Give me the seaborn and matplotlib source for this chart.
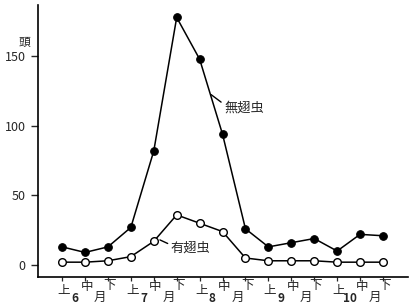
import matplotlib
matplotlib.use("Agg")
import matplotlib.pyplot as plt
import matplotlib.transforms as mtrans
import seaborn as sns
import pandas as pd

sns.set_style("white")
plt.rcParams['font.family'] = ['Noto Sans CJK JP', 'DejaVu Sans']

periods = ["上", "中", "下"] * 5
months = ["6", "7", "8", "9", "10"]
apterous = [13, 9, 13, 27, 82, 178, 148, 94, 26, 13, 16, 19, 10, 22, 21]   # 無翅虫
alate = [2, 2, 3, 6, 17, 36, 30, 24, 5, 3, 3, 3, 2, 2, 2]                  # 有翅虫
yticks = [0, 50, 100, 150]

idx = list(range(len(periods)))
df = pd.DataFrame({"x": idx, "無翅虫": apterous, "有翅虫": alate})

fig = plt.figure(figsize=(4.09, 3.07), dpi=100)
ax = fig.add_axes([0.093, 0.098, 0.905, 0.886])

sns.lineplot(data=df, x="x", y="無翅虫", ax=ax, color="black", lw=1.1,
             marker="o", markersize=5.5, markerfacecolor="black",
             markeredgecolor="black")
sns.lineplot(data=df, x="x", y="有翅虫", ax=ax, color="black", lw=1.1,
             marker="o", markersize=5.5, markerfacecolor="white",
             markeredgecolor="black", markeredgewidth=1.0)

ax.set_xlim(-1.05, 15.1)
ax.set_ylim(-8.6, 187)
for s in ["top", "right"]:
    ax.spines[s].set_visible(False)
for s in ["left", "bottom"]:
    ax.spines[s].set_linewidth(1.2)
    ax.spines[s].set_color("black")

ax.set_yticks(yticks)
ax.set_yticklabels([str(v) for v in yticks], fontsize=9, style="italic")
ax.tick_params(axis="y", direction="out", length=5, width=1, left=True, pad=4)
ax.set_xticks(idx)
ax.set_xticklabels([""] * len(idx))
ax.tick_params(axis="x", direction="out", length=3, width=0.9, bottom=True)
ax.set_xlabel("")
ax.set_ylabel("")

# staggered period labels
trans = ax.get_xaxis_transform()
offs = {"上": -0.051, "中": -0.037, "下": -0.030}
for i, p in enumerate(periods):
    ax.text(i + 0.07, offs[p], p, transform=trans, ha="center", va="center", fontsize=9)
for m, mon in enumerate(months):
    base = 3 * m
    ax.text(base + 0.55, -0.080, mon, transform=trans, ha="center", va="center",
            fontsize=8.5, fontweight="bold")
    ax.text(base + 1.65, -0.076, "月", transform=trans, ha="center", va="center", fontsize=9)

# unit
ax.text(-0.038, 160, "頭", ha="center", va="center", fontsize=8.5,
        transform=mtrans.blended_transform_factory(ax.transAxes, ax.transData))

# series labels with leader lines
ax.annotate("無翅虫", xy=(6.5, 122.5), xytext=(7.08, 113), fontsize=9.5,
            ha="left", va="center",
            arrowprops=dict(arrowstyle="-", color="black", lw=1, shrinkA=0, shrinkB=0,
                            relpos=(0, 0.75)))
ax.annotate("有翅虫", xy=(4.27, 18), xytext=(4.75, 12), fontsize=9.5,
            ha="left", va="center",
            arrowprops=dict(arrowstyle="-", color="black", lw=1, shrinkA=0, shrinkB=0,
                            relpos=(0, 0.75)))

fig.savefig("out.png", dpi=100)
